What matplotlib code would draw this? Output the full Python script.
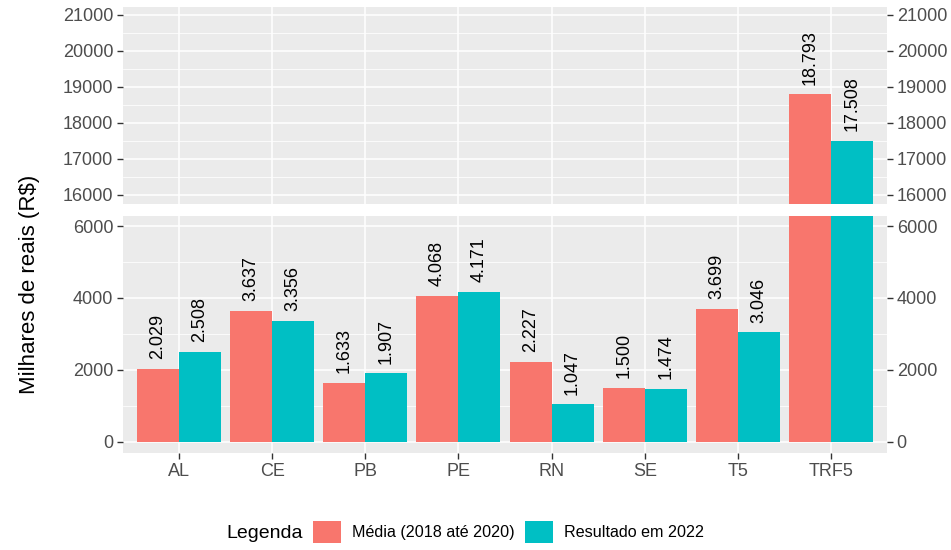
import matplotlib.pyplot as plt
from matplotlib.patches import Patch
import numpy as np

plt.rcParams['font.family'] = ['Liberation Sans', 'DejaVu Sans']

categorias = ["AL", "CE", "PB", "PE", "RN", "SE", "T5", "TRF5"]
media = [2029, 3637, 1633, 4068, 2227, 1500, 3699, 18793]
resultado = [2508, 3356, 1907, 4171, 1047, 1474, 3046, 17508]
series_nomes = ["Média (2018 até 2020)", "Resultado em 2022"]
cores = ["#F8766D", "#00BFC4"]

top_ticks = [16000, 17000, 18000, 19000, 20000, 21000]
bot_ticks = [0, 2000, 4000, 6000]

W, H = 951, 550
fig = plt.figure(figsize=(W / 100, H / 100), dpi=100)

left, right = 123 / W, 887 / W
ax_top = fig.add_axes([left, 1 - 204 / H, right - left, 197 / H])
ax_bot = fig.add_axes([left, 1 - 453 / H, right - left, 237 / H])

x = np.arange(len(categorias))
largura = 0.45
grey30 = "#4D4D4D"


def fmt(v):
    return f"{v:,}".replace(",", ".")


def estilo(ax, ticks, ylim):
    ax.set_facecolor("#EBEBEB")
    for s in ax.spines.values():
        s.set_visible(False)
    ax.set_yticks(ticks)
    passo = ticks[1] - ticks[0]
    minors = [t + passo / 2 for t in [ticks[0] - passo] + ticks]
    minors = [m for m in minors if ylim[0] <= m <= ylim[1]]
    ax.set_yticks(minors, minor=True)
    ax.set_xticks(x)
    ax.set_xlim(-0.6, len(categorias) - 0.4)
    ax.set_ylim(*ylim)
    ax.grid(which="major", color="white", lw=1.1)
    ax.grid(which="minor", axis="y", color="white", lw=0.55)
    ax.set_axisbelow(True)
    ax.tick_params(axis="y", which="major", left=True, right=True, labelleft=True,
                   labelright=True, length=4, width=1, color="#333333",
                   labelsize=13, labelcolor=grey30, pad=3)
    ax.tick_params(axis="y", which="minor", left=False, right=False)


for ax, ticks, ylim in [(ax_top, top_ticks, (15750, 21222)),
                        (ax_bot, bot_ticks, (-306, 6278))]:
    estilo(ax, ticks, ylim)
    for vals, cor, desl in [(media, cores[0], -largura / 2), (resultado, cores[1], largura / 2)]:
        ax.bar(x + desl, vals, width=largura, color=cor, zorder=2)
        for xi, v in zip(x, vals):
            if ylim[0] <= v <= ylim[1]:
                ax.annotate(fmt(v), (xi + desl, v), xytext=(0, 7), textcoords="offset points",
                            rotation=90, ha="center", va="bottom", fontsize=13, color="black")
    ax.set_ylim(*ylim)

ax_top.tick_params(axis="x", bottom=False, labelbottom=False)
ax_bot.set_xticklabels(categorias)
ax_bot.tick_params(axis="x", length=4, width=1, color="#333333", labelsize=13,
                   labelcolor=grey30, pad=3)

fig.text(30 / W, 1 - 284 / H, "Milhares de reais (R$)", rotation=90, ha="center",
         va="center", fontsize=16)

fig.text(226 / W, 1 - 533 / H, "Legenda", ha="left", va="center", fontsize=14)
handles = [Patch(facecolor=c, edgecolor="none") for c in cores]
fig.legend(handles, series_nomes, loc="center left", bbox_to_anchor=(313 / W, 1 - 532 / H),
           ncol=2, frameon=False, fontsize=11.6, handlelength=1.75, handleheight=1.75,
           handletextpad=0.66, columnspacing=0.66, borderpad=0, borderaxespad=0)

fig.savefig("out.png", dpi=100)
